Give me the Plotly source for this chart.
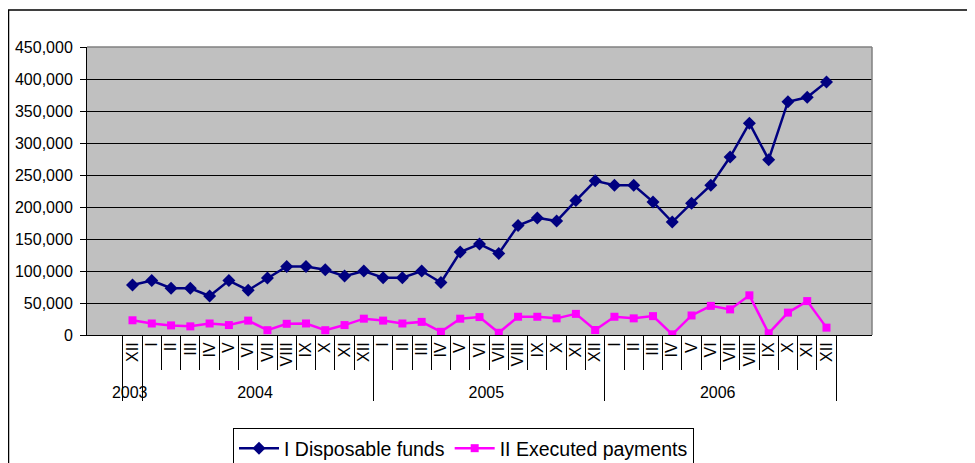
import plotly.graph_objects as go

years = ["2003"] + ["2004"] * 12 + ["2005"] * 12 + ["2006"] * 12
# the 2003 "XII" carries a zero-width space so it stays a distinct category
months = ["XII\u200b",
          "I", "II", "III", "IV", "V", "VI", "VII", "VIII", "IX", "X", "XI", "XII",
          "I", "II", "III", "IV", "V", "VI", "VII", "VIII", "IX", "X", "XI", "XII",
          "I", "II", "III", "IV", "V", "VI", "VII", "VIII", "IX", "X", "XI", "XII"]

disposable = [78000, 85000, 73000, 73000, 61000, 85000, 70000, 89000, 107000, 107000,
              102000, 92000, 100000, 89500, 89500, 100000, 82000, 129500, 142000, 127500,
              171000, 183000, 178000, 210000, 241000, 234000, 234000, 208000, 176500,
              206000, 234000, 278000, 331000, 274000, 364500, 371500, 395500]

executed = [23000, 18000, 15000, 13500, 18000, 15500, 22500, 7500, 17500, 18000,
            7500, 15500, 25500, 22500, 18000, 20500, 5000, 25500, 28000, 3500,
            28500, 28500, 26000, 33000, 7800, 28500, 26000, 29500, 1000,
            30500, 45500, 40000, 62000, 2600, 35000, 53000, 11500]

OFF = 8  # page body margin
L, R, T, B = 87 - OFF, 103, 47 - OFF, 128
W, H = 975 - OFF, 463 - OFF
pw, ph = W - L - R, H - T - B

fig = go.Figure()
fig.add_trace(go.Scatter(
    x=[years, months], y=disposable, name="I Disposable funds",
    mode="lines+markers",
    line=dict(color="#000080", width=2.5),
    marker=dict(symbol="diamond", size=10, color="#000080"),
))
fig.add_trace(go.Scatter(
    x=[years, months], y=executed, name="II Executed payments",
    mode="lines+markers",
    line=dict(color="#FF00FF", width=2.5),
    marker=dict(symbol="square", size=8, color="#FF00FF"),
))

font = dict(family="Liberation Sans, Arial, sans-serif", size=16, color="black")

fig.update_layout(
    width=W, height=H,
    margin=dict(l=L, r=R, t=T, b=B, pad=0, autoexpand=False),
    paper_bgcolor="white",
    plot_bgcolor="#C0C0C0",
    font=font,
    showlegend=True,
    legend=dict(
        orientation="h",
        x=(233 - 87) / pw, y=(335 - 428) / ph,
        xanchor="left", yanchor="top",
        bordercolor="black", borderwidth=1, bgcolor="white",
        font=dict(family="Liberation Sans, Arial, sans-serif", size=19.5, color="black"),
        itemwidth=40,
    ),
    xaxis=dict(
        type="multicategory",
        automargin=False,
        showgrid=False,
        showline=True, linecolor="black", linewidth=1,
        ticks="outside", tickson="boundaries", ticklen=34, tickcolor="black",
        tickangle=-90,
        showdividers=True, dividercolor="black", dividerwidth=1,
        tickfont=font,
    ),
    yaxis=dict(
        range=[0, 450000], dtick=50000, tickformat=",",
        automargin=False,
        showgrid=True, gridcolor="black", gridwidth=1,
        showline=True, linecolor="black", linewidth=1,
        ticks="outside", ticklen=6, tickcolor="black",
        ticklabelstandoff=4,
        zeroline=False,
        tickfont=font,
    ),
    shapes=[
        dict(type="line", xref="paper", yref="paper", x0=0, x1=1, y0=1, y1=1,
             line=dict(color="#808080", width=1.5)),
        dict(type="line", xref="paper", yref="paper", x0=1, x1=1, y0=0, y1=1,
             line=dict(color="#808080", width=1.5)),
        dict(type="rect", xref="paper", yref="paper",
             x0=(8.5 - 87) / pw, x1=(1000 - 87) / pw,
             y0=(335 - 490) / ph, y1=(335 - 10) / ph,
             line=dict(color="black", width=1.5)),
    ],
)

fig.write_html("out.html")
